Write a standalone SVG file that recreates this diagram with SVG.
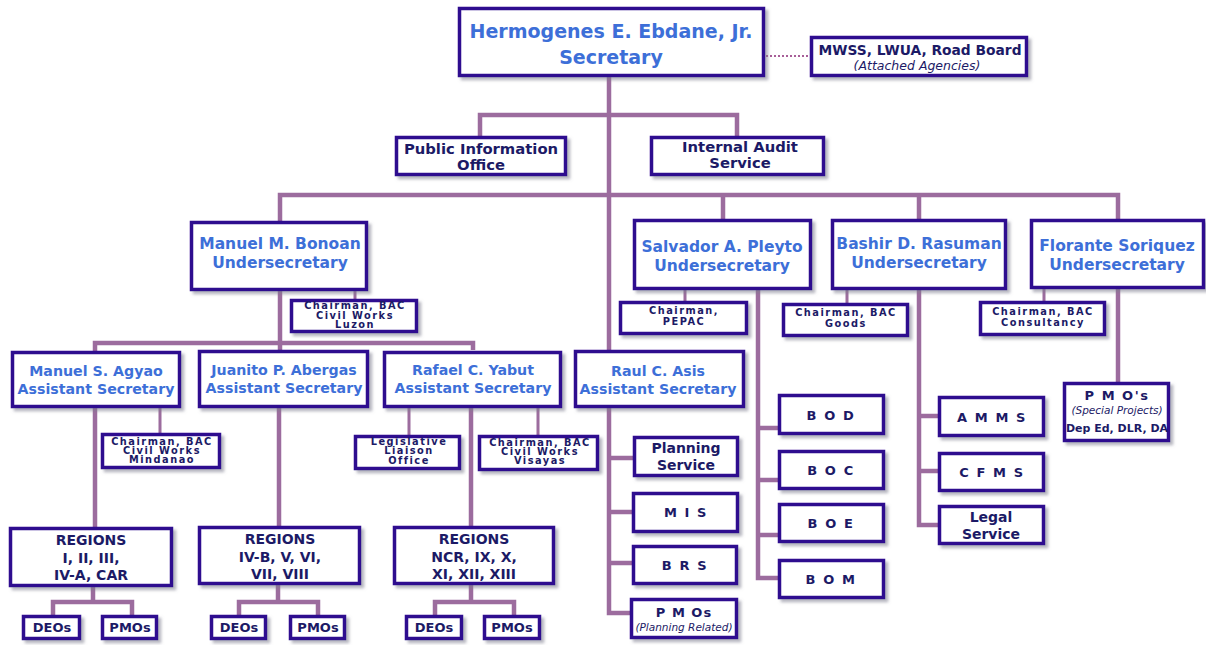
<svg xmlns="http://www.w3.org/2000/svg" width="1206" height="645" viewBox="0 0 1206 645">
<defs>
<filter id="ds" x="-10%" y="-10%" width="130%" height="140%">
<feDropShadow dx="3" dy="3" stdDeviation="1.6" flood-color="#7a7a8a" flood-opacity="0.55"/>
</filter>
<style>
.box{fill:#fff;stroke:#2e0f8f;stroke-width:3.5;filter:url(#ds)}
.ln{fill:none;stroke:#9c6c9e;stroke-width:4.5}
.ln2{fill:none;stroke:#9c6c9e;stroke-width:3}
.dot{fill:none;stroke:#a85e98;stroke-width:2;stroke-dasharray:2 2}
text{font-family:"DejaVu Sans","Verdana",sans-serif;font-weight:bold;text-anchor:middle}
.sec{fill:#3d6fd8;font-size:19px}
.nm{fill:#3d6fd8;font-size:15.5px}
.as{fill:#3d6fd8;font-size:14.2px}
.nv{fill:#1c1a66}
.sm{fill:#1c1a66;font-size:9.8px;letter-spacing:1.5px}
.sp{fill:#1c1a66;font-size:13px;letter-spacing:1.6px}
.rg{fill:#1c1a66;font-size:14px}
.it{font-style:italic;font-weight:normal}
</style>
</defs>
<rect width="1206" height="645" fill="#fff"/>
<g id="connectors">
<line class="dot" x1="766" y1="56" x2="810" y2="56"/>
<path class="ln" d="M609 77V350M480 136V115H737V136M280 221V195H1118V219M723 195V219M919 195V219"/>
<path class="ln" d="M280 291V343M95 351V343H473V350M280 343V350"/>
<path class="ln2" d="M355 291V299"/>
<path class="ln" d="M95 408V527M279 408V526M471 408V526"/>
<path class="ln2" d="M160 408V433M409 408V435M538 408V435"/>
<path class="ln" d="M93 587V602M53 615V602H132V615M278 585V602M239 615V602H318V615M471 585V602M435 615V602H514V615"/>
<path class="ln" d="M609 408V613H630M609 458H633M609 512H632M609 563H632"/>
<path class="ln2" d="M685 290V301M847 290V303M1044 289V301"/>
<path class="ln" d="M758 290V578H778M758 428H778M758 480H778M758 535H778"/>
<path class="ln" d="M919 290V525H938M919 416H938M919 471H938"/>
<path class="ln" d="M1118 289V382"/>
</g>
<g id="secretary"><rect class="box" x="459.5" y="8.5" width="304" height="67"/>
<text class="sec" x="611" y="38">Hermogenes E. Ebdane, Jr.</text>
<text class="sec" x="611" y="64">Secretary</text></g>
<g id="attached"><rect class="box" x="811.5" y="37.5" width="215" height="38"/>
<text class="nv" font-size="13.8" x="920" y="55">MWSS, LWUA, Road Board</text>
<text class="nv it" font-size="12.5" x="917" y="70">(Attached Agencies)</text></g>
<g id="pio"><rect class="box" x="396.5" y="137.5" width="169" height="37"/>
<text class="nv" font-size="14.8" x="481" y="154">Public Information</text>
<text class="nv" font-size="14.8" x="481" y="170">Office</text></g>
<g id="ias"><rect class="box" x="651.5" y="137.5" width="172" height="37"/>
<text class="nv" font-size="14.8" x="740" y="152">Internal Audit</text>
<text class="nv" font-size="14.8" x="740" y="168">Service</text></g>
<g id="bonoan"><rect class="box" x="191.5" y="222.5" width="175" height="67"/>
<text class="nm" x="280" y="249">Manuel M. Bonoan</text>
<text class="nm" x="280" y="268">Undersecretary</text></g>
<g id="bac-luzon"><rect class="box" x="291.5" y="300.5" width="125" height="31"/>
<text class="sm" x="355" y="309">Chairman, BAC</text>
<text class="sm" x="355" y="319">Civil Works</text>
<text class="sm" x="355" y="328">Luzon</text></g>
<g id="pleyto"><rect class="box" x="634.5" y="220.5" width="176" height="68"/>
<text class="nm" x="722" y="252">Salvador A. Pleyto</text>
<text class="nm" x="722" y="271">Undersecretary</text></g>
<g id="pepac"><rect class="box" x="620.5" y="302.5" width="126" height="31"/>
<text class="sm" x="684" y="314">Chairman,</text>
<text class="sm" x="684" y="325">PEPAC</text></g>
<g id="rasuman"><rect class="box" x="832.5" y="220.5" width="173" height="68"/>
<text class="nm" x="919" y="249">Bashir D. Rasuman</text>
<text class="nm" x="919" y="268">Undersecretary</text></g>
<g id="bac-goods"><rect class="box" x="783.5" y="304.5" width="124" height="31"/>
<text class="sm" x="846" y="316">Chairman, BAC</text>
<text class="sm" x="846" y="327">Goods</text></g>
<g id="soriquez"><rect class="box" x="1031.5" y="220.5" width="172" height="67"/>
<text class="nm" x="1117" y="251">Florante Soriquez</text>
<text class="nm" x="1117" y="270">Undersecretary</text></g>
<g id="bac-consultancy"><rect class="box" x="980.5" y="302.5" width="124" height="32"/>
<text class="sm" x="1043" y="315">Chairman, BAC</text>
<text class="sm" x="1043" y="326">Consultancy</text></g>
<g id="agyao"><rect class="box" x="12.5" y="352.5" width="167" height="54"/>
<text class="as" x="96" y="376">Manuel S. Agyao</text>
<text class="as" x="96" y="394">Assistant Secretary</text></g>
<g id="abergas"><rect class="box" x="199.5" y="351.5" width="168" height="55"/>
<text class="as" x="284" y="375">Juanito P. Abergas</text>
<text class="as" x="284" y="393">Assistant Secretary</text></g>
<g id="yabut"><rect class="box" x="384.5" y="352.5" width="176" height="54"/>
<text class="as" x="473" y="375">Rafael C. Yabut</text>
<text class="as" x="473" y="393">Assistant Secretary</text></g>
<g id="asis"><rect class="box" x="575.5" y="351.5" width="168" height="55"/>
<text class="as" x="658" y="376">Raul C. Asis</text>
<text class="as" x="658" y="394">Assistant Secretary</text></g>
<g id="bac-mindanao"><rect class="box" x="102.5" y="434.5" width="117" height="33"/>
<text class="sm" x="162" y="445">Chairman, BAC</text>
<text class="sm" x="162" y="454">Civil Works</text>
<text class="sm" x="162" y="463">Mindanao</text></g>
<g id="liaison"><rect class="box" x="355.5" y="436.5" width="104" height="32"/>
<text class="sm" x="409" y="445">Legislative</text>
<text class="sm" x="409" y="454">Liaison</text>
<text class="sm" x="409" y="464">Office</text></g>
<g id="bac-visayas"><rect class="box" x="479.5" y="436.5" width="118" height="33"/>
<text class="sm" x="540" y="446">Chairman, BAC</text>
<text class="sm" x="540" y="455">Civil Works</text>
<text class="sm" x="540" y="464">Visayas</text></g>
<g id="regions-1"><rect class="box" x="10.5" y="528.5" width="161" height="57"/>
<text class="rg" x="91" y="545">REGIONS</text>
<text class="rg" x="91" y="563">I, II, III,</text>
<text class="rg" x="91" y="580">IV-A, CAR</text></g>
<g id="regions-2"><rect class="box" x="199.5" y="527.5" width="160" height="56"/>
<text class="rg" x="280" y="544">REGIONS</text>
<text class="rg" x="280" y="562">IV-B, V, VI,</text>
<text class="rg" x="280" y="579">VII, VIII</text></g>
<g id="regions-3"><rect class="box" x="394.5" y="527.5" width="159" height="56"/>
<text class="rg" x="474" y="544">REGIONS</text>
<text class="rg" x="474" y="562">NCR, IX, X,</text>
<text class="rg" x="474" y="579">XI, XII, XIII</text></g>
<g id="deos-1"><rect class="box" x="23.5" y="616.5" width="56" height="22"/><text class="nv" font-size="13" x="52" y="632">DEOs</text></g>
<g id="pmos-1"><rect class="box" x="102.5" y="616.5" width="54" height="22"/><text class="nv" font-size="13" x="130" y="632">PMOs</text></g>
<g id="deos-2"><rect class="box" x="211.5" y="616.5" width="54" height="22"/><text class="nv" font-size="13" x="239" y="632">DEOs</text></g>
<g id="pmos-2"><rect class="box" x="290.5" y="616.5" width="54" height="22"/><text class="nv" font-size="13" x="318" y="632">PMOs</text></g>
<g id="deos-3"><rect class="box" x="406.5" y="616.5" width="55" height="22"/><text class="nv" font-size="13" x="434" y="632">DEOs</text></g>
<g id="pmos-3"><rect class="box" x="484.5" y="616.5" width="55" height="22"/><text class="nv" font-size="13" x="512" y="632">PMOs</text></g>
<g id="planning"><rect class="box" x="634.5" y="437.5" width="103" height="38"/>
<text class="nv" font-size="14" x="686" y="453">Planning</text>
<text class="nv" font-size="14" x="686" y="470">Service</text></g>
<g id="mis"><rect class="box" x="633.5" y="493.5" width="104" height="38"/><text class="sp" x="686" y="517">M I S</text></g>
<g id="brs"><rect class="box" x="633.5" y="546.5" width="103" height="37"/><text class="sp" x="685" y="570">B R S</text></g>
<g id="pmos-planning"><rect class="box" x="631.5" y="599.5" width="105" height="38"/>
<text class="nv" font-size="13" letter-spacing="1" x="684" y="617">P M Os</text>
<text class="nv it" font-size="10.5" x="684" y="631">(Planning Related)</text></g>
<g id="bod"><rect class="box" x="779.5" y="395.5" width="104" height="38"/><text class="sp" x="831" y="420">B O D</text></g>
<g id="boc"><rect class="box" x="779.5" y="451.5" width="104" height="37"/><text class="sp" x="831" y="475">B O C</text></g>
<g id="boe"><rect class="box" x="779.5" y="504.5" width="104" height="37"/><text class="sp" x="831" y="528">B O E</text></g>
<g id="bom"><rect class="box" x="779.5" y="560.5" width="104" height="37"/><text class="sp" x="831" y="584">B O M</text></g>
<g id="amms"><rect class="box" x="939.5" y="397.5" width="104" height="38"/><text class="sp" x="992" y="422">A M M S</text></g>
<g id="cfms"><rect class="box" x="939.5" y="453.5" width="104" height="37"/><text class="sp" x="992" y="477">C F M S</text></g>
<g id="legal"><rect class="box" x="939.5" y="506.5" width="104" height="37"/>
<text class="nv" font-size="14" x="991" y="522">Legal</text>
<text class="nv" font-size="14" x="991" y="539">Service</text></g>
<g id="pmo-special"><rect class="box" x="1064.5" y="383.5" width="104" height="57"/>
<text class="nv" font-size="13" letter-spacing="1.5" x="1117" y="400">P M O's</text>
<text class="nv it" font-size="10.5" x="1117" y="414">(Special Projects)</text>
<text class="nv" font-size="11" x="1117" y="432">Dep Ed, DLR, DA</text></g>
</svg>
